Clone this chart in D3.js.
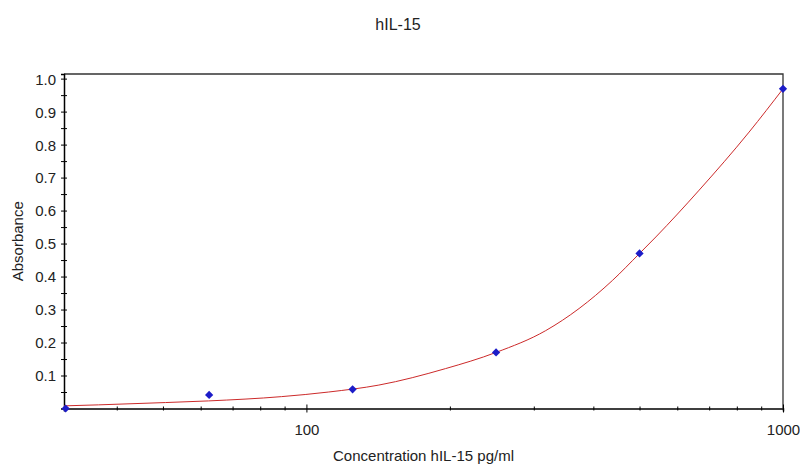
<!DOCTYPE html>
<html>
<head>
<meta charset="utf-8">
<script src="https://cdn.jsdelivr.net/npm/d3@7"></script>
<style>
  body { margin: 0; background: #fff; }
  svg text { font-family: Arial, "Liberation Sans", sans-serif; fill: #222; }
</style>
</head>
<body>
<svg id="chart" width="800" height="466"></svg>
<script>
// standards
var concentrations = [31.25, 62.5, 125, 250, 500, 1000];
var absorbances = [0.0, 0.041, 0.058, 0.170, 0.470, 0.969];

// fitted curve
var curveConc = [31, 36.6, 50.6, 62.3, 88.7, 111.4, 141.9, 195.9, 250, 317.7, 373.3, 438.5, 500, 541, 667, 849, 1000];
var curveAbs = [0.008, 0.011, 0.018, 0.023, 0.036, 0.050, 0.071, 0.121, 0.170, 0.236, 0.303, 0.388, 0.470, 0.520, 0.662, 0.838, 0.969];

var xMajorTicks = [100, 1000];
var xMinorTicks = [40, 50, 60, 70, 80, 90, 200, 300, 400, 500, 600, 700, 800, 900];
var yTicks = [0.05, 0.1, 0.15, 0.2, 0.25, 0.3, 0.35, 0.4, 0.45, 0.5, 0.55, 0.6, 0.65, 0.7, 0.75, 0.8, 0.85, 0.9, 0.95, 1.0];

var svg = d3.select("svg#chart");
var margin = {"top": 74, "right": 17, "bottom": 57.5, "left": 64};
var width = +svg.attr("width"), height = +svg.attr("height");
var chartWidth = width - margin.left - margin.right;
var chartHeight = height - margin.top - margin.bottom;

var xScale = d3.scaleLog().domain([31, 1000]).range([0, chartWidth]);
var yScale = d3.scaleLinear().domain([0, 1.014]).range([chartHeight, 0]);

var g = svg.append("g").attr("transform", "translate(" + margin.left + "," + margin.top + ")");

// frame (top + right)
g.append("path")
  .attr("d", "M0,0H" + chartWidth + "V" + chartHeight)
  .attr("fill", "none").attr("stroke", "#333").attr("stroke-width", 1.3);

// y axis, ticks crossing the line
var leftAxis = d3.axisLeft(yScale).tickValues(yTicks).tickSize(3).tickPadding(5)
  .tickFormat(function (d) { return Math.abs(d * 10 - Math.round(d * 10)) < 1e-6 ? d3.format(".1f")(d) : ""; });
var yAxis = g.append("g").call(leftAxis);
yAxis.select(".domain").attr("stroke", "#000").attr("stroke-width", 1.5);
yAxis.selectAll(".tick line").attr("x1", -3).attr("x2", 3).attr("stroke", "#000");
yAxis.selectAll(".tick text").style("font-size", "15px").attr("dy", "0.36em");

// x axis, log ticks
var allX = xMinorTicks.concat(xMajorTicks);
var bottomAxis = d3.axisBottom(xScale).tickValues(allX).tickSize(3)
  .tickFormat(function (d) { return xMajorTicks.indexOf(d) >= 0 ? d : ""; });
var xAxis = g.append("g").attr("transform", "translate(0," + chartHeight + ")").call(bottomAxis);
xAxis.select(".domain").attr("stroke", "#000").attr("stroke-width", 1.5);
xAxis.selectAll(".tick line")
  .attr("y1", function (d) { return xMajorTicks.indexOf(d) >= 0 ? -4 : -2; })
  .attr("y2", function (d) { return xMajorTicks.indexOf(d) >= 0 ? 4 : 2; })
  .attr("stroke", "#000");
xAxis.selectAll(".tick text").style("font-size", "15px").attr("y", 16);

// fitted curve
var line = d3.line()
  .x(function (d, i) { return xScale(curveConc[i]); })
  .y(function (d) { return yScale(d); })
  .curve(d3.curveMonotoneX);
g.append("path").datum(curveAbs)
  .attr("d", line)
  .attr("fill", "none").attr("stroke", "#cc2a2a").attr("stroke-width", 1);

// standards as diamonds
var diamond = d3.symbol().type(d3.symbolSquare).size(34);
absorbances.forEach(function (a, i) {
  g.append("path")
    .attr("d", diamond)
    .attr("transform", "translate(" + xScale(concentrations[i]) + "," + yScale(a) + ") rotate(45)")
    .attr("fill", "#1c1cc8");
});

// titles
svg.append("text").attr("x", 398).attr("y", 30).attr("text-anchor", "middle")
  .style("font-size", "16px").text("hIL-15");
svg.append("text").attr("x", margin.left + chartWidth / 2).attr("y", 461).attr("text-anchor", "middle")
  .style("font-size", "15px").text("Concentration hIL-15 pg/ml");
svg.append("text").attr("transform", "translate(23," + (margin.top + chartHeight / 2) + ") rotate(-90)")
  .attr("text-anchor", "middle").style("font-size", "15px").text("Absorbance");
</script>
</body>
</html>
